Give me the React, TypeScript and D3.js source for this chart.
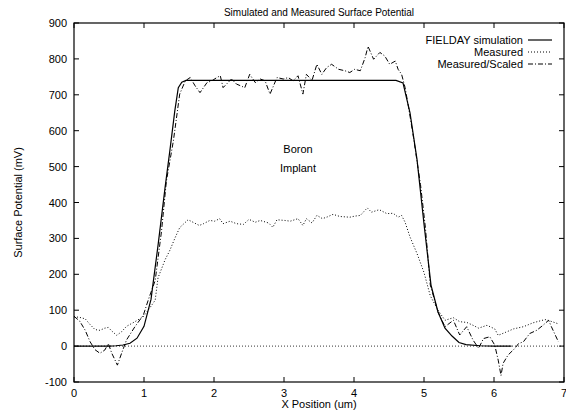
import React from "react";
import * as d3 from "d3";

// FIELDAY simulation (solid)
const simX = [0, 0.5, 0.6, 0.7, 0.8, 0.9, 1.0, 1.1, 1.2, 1.3, 1.37, 1.44, 1.49, 1.54, 1.6, 4.6, 4.7, 4.8, 4.9, 5.0, 5.1, 5.2, 5.3, 5.4, 5.5, 5.6, 5.8, 6.0, 6.25];
const simY = [0, 0, 1, 3, 8, 22, 55, 130, 280, 440, 545, 655, 720, 735, 740, 740, 733, 650, 520, 340, 170, 95, 50, 28, 10, 4, 1, 0, 0];

// Measured (dotted)
const measX = [0, 0.08, 0.16, 0.23, 0.3, 0.37, 0.44, 0.49, 0.54, 0.61, 0.68, 0.75, 0.87, 0.99, 1.06, 1.16, 1.2, 1.3, 1.37, 1.44, 1.51, 1.63, 1.7, 1.79, 1.85, 1.94, 2.01, 2.08, 2.13, 2.23, 2.32, 2.42, 2.5, 2.59, 2.66, 2.78, 2.84, 2.9, 3.01, 3.09, 3.2, 3.27, 3.32, 3.4, 3.47, 3.55, 3.62, 3.7, 3.8, 3.94, 4.01, 4.09, 4.19, 4.25, 4.36, 4.47, 4.56, 4.63, 4.68, 4.73, 4.8, 4.9, 5.0, 5.09, 5.2, 5.3, 5.42, 5.51, 5.61, 5.7, 5.78, 5.9, 6.01, 6.06, 6.16, 6.28, 6.42, 6.56, 6.73, 6.8, 6.92];
const measY = [82, 80, 76, 60, 46, 44, 50, 52, 42, 30, 40, 55, 68, 82, 100, 128, 190, 240, 267, 300, 330, 352, 345, 336, 341, 350, 348, 355, 341, 348, 341, 339, 353, 345, 350, 343, 331, 352, 350, 348, 355, 336, 355, 343, 364, 355, 360, 367, 361, 359, 362, 364, 385, 373, 380, 369, 370, 359, 364, 345, 304, 258, 205, 140, 100, 72, 79, 68, 66, 58, 50, 58, 48, 30, 38, 48, 54, 65, 74, 70, 62];

// Measured/Scaled (dash-dot)
const scaledX = [0, 0.08, 0.16, 0.23, 0.3, 0.37, 0.44, 0.49, 0.54, 0.62, 0.68, 0.75, 0.87, 0.99, 1.06, 1.16, 1.25, 1.32, 1.42, 1.51, 1.59, 1.66, 1.73, 1.8, 1.9, 1.97, 2.04, 2.09, 2.13, 2.2, 2.25, 2.32, 2.44, 2.51, 2.59, 2.66, 2.73, 2.8, 2.85, 2.9, 2.99, 3.06, 3.13, 3.2, 3.27, 3.32, 3.4, 3.47, 3.54, 3.61, 3.68, 3.78, 3.87, 3.94, 4.01, 4.09, 4.16, 4.2, 4.28, 4.37, 4.44, 4.51, 4.59, 4.63, 4.68, 4.73, 4.78, 4.85, 4.95, 5.02, 5.09, 5.2, 5.3, 5.42, 5.51, 5.61, 5.7, 5.78, 5.85, 5.94, 6.01, 6.06, 6.1, 6.13, 6.2, 6.3, 6.35, 6.42, 6.51, 6.61, 6.7, 6.78, 6.82, 6.92];
const scaledY = [83, 70, 44, 12, -10, -20, -11, 7, -20, -53, -20, 17, 54, 86, 128, 183, 320, 460, 572, 702, 739, 748, 725, 706, 734, 739, 748, 753, 720, 734, 744, 730, 720, 757, 734, 744, 739, 702, 725, 748, 744, 748, 739, 753, 702, 757, 740, 785, 757, 776, 785, 771, 767, 762, 771, 767, 804, 835, 799, 818, 808, 785, 794, 771, 757, 720, 665, 581, 450, 330, 170, 95, 54, 72, 31, 54, 17, -6, 21, 26, 3, -39, -82, -48, -25, -6, 7, 12, 35, 44, 58, 72, 54, 12];

const xTicks = [0, 1, 2, 3, 4, 5, 6, 7];
const yTicks = [-100, 0, 100, 200, 300, 400, 500, 600, 700, 800, 900];

const legendNames = ["FIELDAY simulation", "Measured", "Measured/Scaled"];
const dashes = ["none", "1,2", "5,2,1,2"];

const W = 566;
const H = 411;
const margin = { top: 23, right: 2, bottom: 29, left: 74 };
const font = "'Liberation Sans', Arial, Helvetica, sans-serif";

export default function App() {
  const x = d3.scaleLinear().domain([0, 7]).range([margin.left, W - margin.right]);
  const y = d3.scaleLinear().domain([-100, 900]).range([H - margin.bottom, margin.top]);

  const line = d3
    .line<[number, number]>()
    .x((d) => x(d[0]))
    .y((d) => y(d[1]));

  const zip = (xs: number[], ys: number[]) => xs.map((v, i) => [v, ys[i]] as [number, number]);
  const series = [zip(simX, simY), zip(measX, measY), zip(scaledX, scaledY)];

  const x0 = x(0), x1 = x(7), y0 = y(-100), y1 = y(900);
  const tick = 5;

  return (
    <div style={{ position: "fixed", left: 0, top: 0 }}>
      <svg width={W} height={H} style={{ display: "block", background: "#fff" }} fontFamily={font} fontSize={11}>
        <text x={(x0 + x1) / 2} y={16} textAnchor="middle" fontSize={10}>Simulated and Measured Surface Potential</text>

        {/* zero line */}
        <line x1={x0} x2={x1} y1={y(0)} y2={y(0)} stroke="#000" strokeWidth={0.8} strokeDasharray="1,2" />

        {yTicks.map((t) => (
          <g key={"y" + t}>
            <line x1={x0} x2={x0 + tick} y1={y(t)} y2={y(t)} stroke="#000" />
            <line x1={x1} x2={x1 - tick} y1={y(t)} y2={y(t)} stroke="#000" />
            <text x={x0 - 7} y={y(t) + 4} textAnchor="end">{t}</text>
          </g>
        ))}
        {xTicks.map((t) => (
          <g key={"x" + t}>
            <line x1={x(t)} x2={x(t)} y1={y0} y2={y0 - tick} stroke="#000" />
            <line x1={x(t)} x2={x(t)} y1={y1} y2={y1 + tick} stroke="#000" />
            <text x={x(t)} y={y0 + 15} textAnchor="middle">{t}</text>
          </g>
        ))}

        {series.map((s, i) => (
          <path key={i} d={line(s) ?? ""} fill="none" stroke="#000" strokeWidth={i === 0 ? 1.2 : 1} strokeDasharray={dashes[i]} />
        ))}

        <text x={x(3.2)} y={y(550) + 4} textAnchor="middle">Boron</text>
        <text x={x(3.2)} y={y(495) + 4} textAnchor="middle">Implant</text>

        {legendNames.map((n, i) => (
          <g key={n}>
            <text x={523} y={44 + i * 12} textAnchor="end">{n}</text>
            <line x1={528} x2={552} y1={40 + i * 12} y2={40 + i * 12} stroke="#000" strokeWidth={i === 0 ? 1.2 : 1} strokeDasharray={dashes[i]} />
          </g>
        ))}

        <rect x={x0} y={y1} width={x1 - x0} height={y0 - y1} fill="none" stroke="#000" strokeWidth={1.2} />

        <text x={(x0 + x1) / 2} y={H - 3} textAnchor="middle">X Position (um)</text>
        <text transform={`translate(22, ${(y0 + y1) / 2}) rotate(-90)`} textAnchor="middle">Surface Potential (mV)</text>
      </svg>
    </div>
  );
}
